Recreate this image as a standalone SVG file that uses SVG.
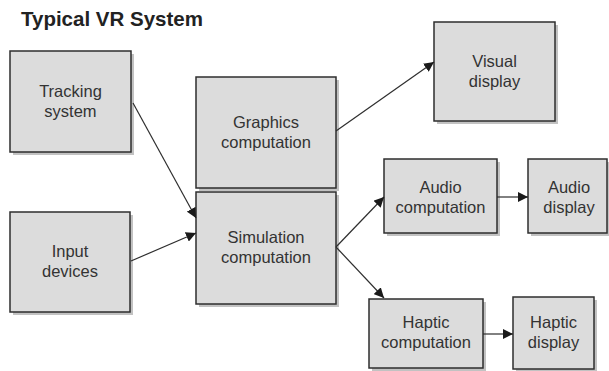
<svg xmlns="http://www.w3.org/2000/svg" width="609" height="371" viewBox="0 0 609 371">
<style>
.box{fill:#dcdcdc;stroke:#2e2e2e;stroke-width:1.5}
.sh{fill:#9a9a9a;opacity:0.6}
.t{font-family:"Liberation Sans",Arial,sans-serif;font-size:16.5px;fill:#333;text-anchor:middle}
.title{font-family:"Liberation Sans",Arial,sans-serif;font-size:20.5px;font-weight:bold;fill:#222}
.c{stroke:#2e2e2e;stroke-width:1.2;fill:none;marker-end:url(#ah)}
</style>
<defs>
<marker id="ah" viewBox="0 0 10 10" refX="10" refY="5" markerWidth="10" markerHeight="10" markerUnits="userSpaceOnUse" orient="auto">
<path d="M0,0 L10,5 L0,10 z" fill="#1a1a1a"/>
</marker>
</defs>
<rect width="609" height="371" fill="#fff"/>
<text class="title" x="21" y="25.5">Typical VR System</text>
<g id="tracking">
<rect class="sh" x="13" y="54" width="121" height="101"/>
<rect class="box" x="10" y="51" width="121" height="101"/>
<text class="t" x="70.5" y="96.5">Tracking</text>
<text class="t" x="70.5" y="116.5">system</text>
</g>
<g id="input">
<rect class="sh" x="13" y="215" width="120" height="100"/>
<rect class="box" x="10" y="212" width="120" height="100"/>
<text class="t" x="70" y="257">Input</text>
<text class="t" x="70" y="277">devices</text>
</g>
<g id="graphics">
<rect class="sh" x="199" y="80" width="140" height="111"/>
<rect class="box" x="196" y="77" width="140" height="111"/>
<text class="t" x="266" y="128">Graphics</text>
<text class="t" x="266" y="148">computation</text>
</g>
<g id="simulation">
<rect class="sh" x="199" y="195" width="140" height="112"/>
<rect class="box" x="196" y="192" width="140" height="112"/>
<text class="t" x="266" y="243">Simulation</text>
<text class="t" x="266" y="263">computation</text>
</g>
<g id="visual">
<rect class="sh" x="437" y="25" width="121" height="99"/>
<rect class="box" x="434" y="22" width="121" height="99"/>
<text class="t" x="494.5" y="67">Visual</text>
<text class="t" x="494.5" y="87">display</text>
</g>
<g id="audiocomp">
<rect class="sh" x="387" y="162" width="113" height="74"/>
<rect class="box" x="384" y="159" width="113" height="74"/>
<text class="t" x="440.5" y="193">Audio</text>
<text class="t" x="440.5" y="213">computation</text>
</g>
<g id="audiodisp">
<rect class="sh" x="531" y="162" width="79" height="74"/>
<rect class="box" x="528" y="159" width="79" height="74"/>
<text class="t" x="569" y="193">Audio</text>
<text class="t" x="569" y="213">display</text>
</g>
<g id="hapticcomp">
<rect class="sh" x="372" y="302" width="114" height="69"/>
<rect class="box" x="369" y="299" width="114" height="69"/>
<text class="t" x="426" y="328">Haptic</text>
<text class="t" x="426" y="348">computation</text>
</g>
<g id="hapticdisp">
<rect class="sh" x="516" y="300" width="81" height="72"/>
<rect class="box" x="513" y="297" width="81" height="72"/>
<text class="t" x="553.5" y="328">Haptic</text>
<text class="t" x="553.5" y="348">display</text>
</g>
<g id="connectors">
<line class="c" x1="133" y1="103" x2="196" y2="218"/>
<line class="c" x1="131" y1="261" x2="196" y2="233"/>
<line class="c" x1="336" y1="131" x2="434" y2="62"/>
<line class="c" x1="336" y1="247" x2="384" y2="197"/>
<line class="c" x1="336" y1="247" x2="384" y2="298"/>
<line class="c" x1="497" y1="197" x2="528" y2="197"/>
<line class="c" x1="483" y1="334" x2="513" y2="334"/>
</g>
</svg>
